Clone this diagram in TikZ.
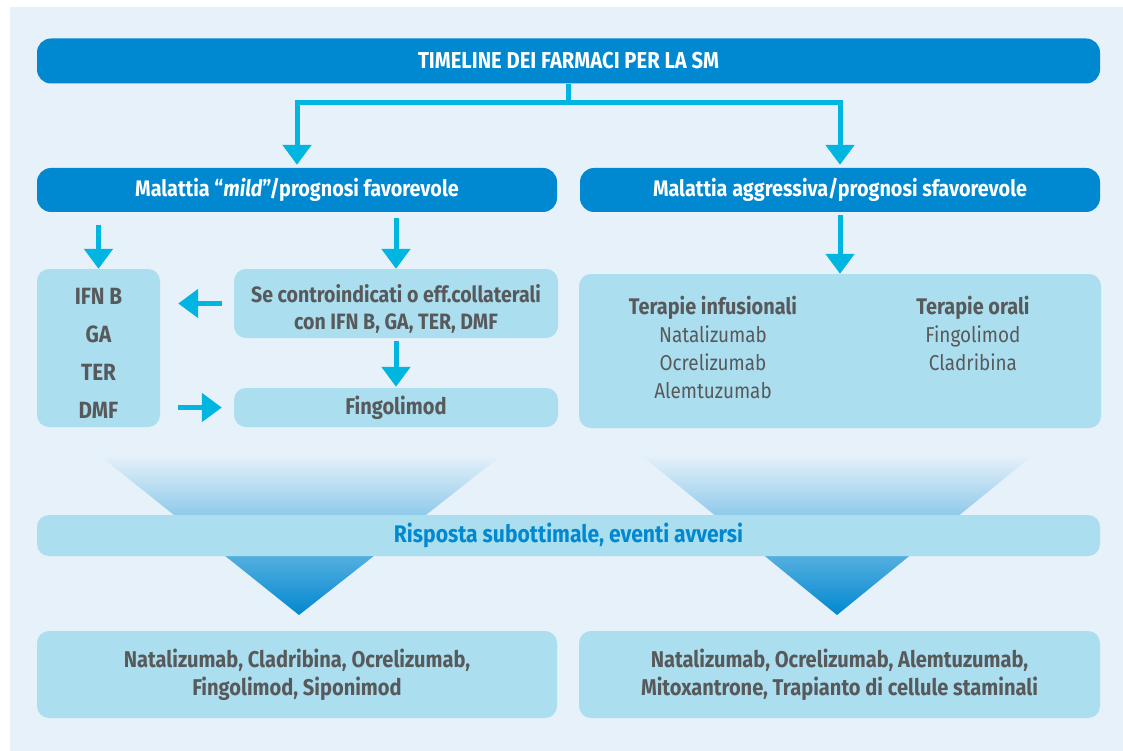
\documentclass[tikz,border=0pt]{standalone}
\usepackage{fontspec}
\setmainfont{Fira Sans}[FakeStretch=0.88]
\usetikzlibrary{arrows.meta}
\definecolor{bgc}{HTML}{E6F1FA}
\definecolor{dblue}{HTML}{0088D0}
\definecolor{cyanA}{HTML}{00B5DF}
\definecolor{lbox}{HTML}{ABDEEF}
\definecolor{tgray}{HTML}{58595B}
\tikzset{
 hdr/.style={fill=dblue, rounded corners=14pt, text=white, font=\bfseries\fontsize{22.5}{26}\selectfont, inner sep=0pt},
 lbx/.style={fill=lbox, rounded corners=12pt, inner sep=0pt},
 btxt/.style={text=tgray, font=\bfseries\fontsize{22.8}{28}\selectfont, align=center, inner sep=0pt},
 rtxt/.style={text=tgray, font=\fontsize{21.5}{28}\selectfont, align=center, inner sep=0pt},
 flow/.style={draw=cyanA, line width=5pt, -{Triangle[width=28pt,length=20pt]}},
}
\begin{document}
\begin{tikzpicture}[x=1pt,y=-1pt]
\useasboundingbox (0,0) rectangle (1123,751);
\fill[bgc] (10,7) rectangle (1123,751);
% headers
\node[hdr, font=\bfseries\fontsize{23}{26}\selectfont, minimum width=1063pt, minimum height=45pt] (title) at (568.5,61) {TIMELINE DEI FARMACI PER LA SM};
\node[hdr, minimum width=520pt, minimum height=44pt] (lh) at (297,190) {Malattia \char"201C\textit{mild}\char"201D/prognosi favorevole};
\node[hdr, minimum width=520pt, minimum height=44pt] (rh) at (840,190) {Malattia aggressiva/prognosi sfavorevole};
% left column boxes
\node[lbx, minimum width=123pt, minimum height=158pt] (ifn) at (98.5,348) {};
\node[btxt, font=\bfseries\fontsize{23.5}{38}\selectfont] (ifnt) at (98.5,353) {IFN B\\GA\\TER\\DMF};
\node[lbx, minimum width=324pt, minimum height=69pt] (se) at (396,303.5) {};
\node[btxt, font=\bfseries\fontsize{22.2}{27}\selectfont] (set) at (396,308.5) {Se controindicati o eff.collaterali\\con IFN B, GA, TER, DMF};
\node[lbx, minimum width=324pt, minimum height=39pt] (fingo) at (396,407.5) {};
\node[btxt] (fingot) at (396,407.5) {Fingolimod};
% right box
\node[lbx, minimum width=522pt, minimum height=154pt] (rb) at (840,351) {};
\node[rtxt] (inf) at (713,347) {\textbf{\fontsize{22.6}{28}\selectfont Terapie infusionali}\\Natalizumab\\Ocrelizumab\\Alemtuzumab};
\node[rtxt] (ora) at (973,333) {\textbf{\fontsize{22.6}{28}\selectfont Terapie orali}\\Fingolimod\\Cladribina};
% funnels
\shade[top color=bgc, bottom color=dblue] (99,455) -- (502,455) -- (299,615) -- cycle;
\shade[top color=bgc, bottom color=dblue] (641,455) -- (1033,455) -- (837,615) -- cycle;
\node[lbx, minimum width=1063pt, minimum height=41pt] (band) at (568.5,535.5) {};
\node[btxt, text=dblue, font=\bfseries\fontsize{24}{28}\selectfont] (bandt) at (568.5,535.5) {Risposta subottimale, eventi avversi};
% bottom boxes
\node[lbx, minimum width=520pt, minimum height=87pt] (bl) at (297,674.5) {};
\node[btxt] (blt) at (297,675) {Natalizumab, Cladribina, Ocrelizumab,\\Fingolimod, Siponimod};
\node[lbx, minimum width=521pt, minimum height=87pt] (br) at (839.5,674.5) {};
\node[btxt] (brt) at (839.5,675) {Natalizumab, Ocrelizumab, Alemtuzumab,\\Mitoxantrone, Trapianto di cellule staminali};
% connectors
\draw[flow, shorten >=3pt] (title.south) -- ++(0,19) -| (lh.north);
\draw[flow, shorten >=3pt] (title.south) -- ++(0,19) -| (rh.north);
\path (ifn.north |- lh.south) coordinate (a1);
\draw[flow] ([yshift=-13pt]a1) -- (ifn.north);
\draw[flow] ([yshift=-6pt]se.north |- lh.south) -- (se.north);
\draw[flow, shorten <=3pt] (rh.south -| rb.north) -- (rb.north);
\draw[flow] ([xshift=-12pt]se.west) -- ([xshift=18pt]se.west -| ifn.east);
\draw[flow] ([xshift=18pt]fingo.west -| ifn.east) -- ([xshift=-12pt]fingo.west);
\draw[flow, shorten <=3pt, shorten >=1pt] (se.south) -- (fingo.north);
\end{tikzpicture}
\end{document}
